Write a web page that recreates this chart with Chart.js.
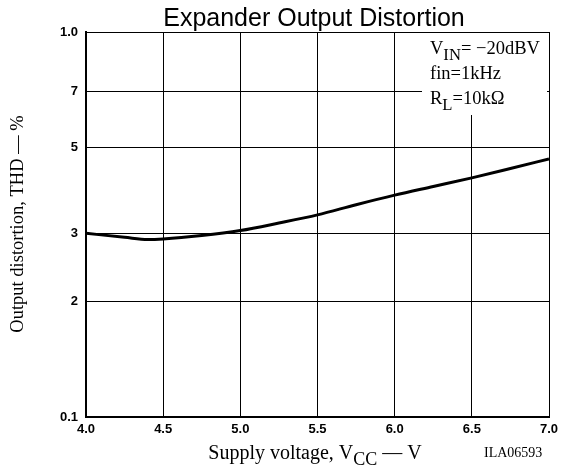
<!DOCTYPE html>
<html>
<head>
<meta charset="utf-8">
<script src="https://cdn.jsdelivr.net/npm/chart.js@4.4.1/dist/chart.umd.min.js"></script>
<style>
  html, body { margin: 0; padding: 0; background: #fff; }
  #wrap { width: 568px; height: 469px; position: relative; }
</style>
</head>
<body>
<div id="wrap"><canvas id="chart"></canvas></div>
<script>
// supply voltage (V) vs. THD
const supplyVoltage = [4.0, 4.25, 4.4, 4.5, 4.75, 5.0, 5.25, 5.5, 5.75, 6.0, 6.25, 6.5, 6.75, 7.0];
const thd = [3.0, 2.93, 2.89, 2.90, 2.96, 3.05, 3.19, 3.35, 3.56, 3.77, 3.97, 4.18, 4.42, 4.68];
const yTicks = [1, 2, 3, 5, 7, 10];
const yTickLabels = ['0.1', '2', '3', '5', '7', '1.0'];
const xTicks = [4.0, 4.5, 5.0, 5.5, 6.0, 6.5, 7.0];

const serif = '"Liberation Serif", "DejaVu Serif", serif';
const sans = '"Liberation Sans", Arial, sans-serif';

// draw text runs with optional subscripts, returns end x
function runs(ctx, x, y, parts, size) {
  for (const p of parts) {
    const s = p.sub ? size * 0.9 : size;
    ctx.font = s + 'px ' + serif;
    ctx.fillText(p.t, x, y + (p.sub ? size * 0.3 : 0));
    x += ctx.measureText(p.t).width;
  }
  return x;
}
function runsWidth(ctx, parts, size) {
  let w = 0;
  for (const p of parts) {
    ctx.font = (p.sub ? size * 0.9 : size) + 'px ' + serif;
    w += ctx.measureText(p.t).width;
  }
  return w;
}

const labels = {
  id: 'labels',
  afterDraw(chart) {
    const { ctx, chartArea: a } = chart;
    ctx.save();
    ctx.fillStyle = '#000';
    ctx.textBaseline = 'alphabetic';

    // title
    ctx.font = '25px ' + sans;
    ctx.textAlign = 'center';
    ctx.fillText('Expander Output Distortion', 314, 26);

    // conditions box
    ctx.textAlign = 'left';
    ctx.fillStyle = '#fff';
    ctx.fillRect(422, a.top + 1, a.right - 424, 82);
    ctx.fillStyle = '#000';
    runs(ctx, 430, 54, [{ t: 'V' }, { t: 'IN', sub: true }, { t: '= \u221220dBV' }], 18.5);
    runs(ctx, 430, 79, [{ t: 'fin=1kHz' }], 18.5);
    runs(ctx, 430, 104, [{ t: 'R' }, { t: 'L', sub: true }, { t: '=10k\u03A9' }], 18.5);

    // x axis title
    const xt = [{ t: 'Supply voltage, V' }, { t: 'CC', sub: true }, { t: ' \u2014 V' }];
    const w = runsWidth(ctx, xt, 20);
    runs(ctx, 315 - w / 2, 459, xt, 20);

    ctx.font = '14px ' + serif;
    ctx.fillText('ILA06593', 484, 457);

    // y axis title
    ctx.translate(23, 224);
    ctx.rotate(-Math.PI / 2);
    ctx.textAlign = 'center';
    ctx.font = '18.5px ' + serif;
    ctx.fillText('Output distortion, THD \u2014 %', 0, 0);
    ctx.restore();
  }
};

new Chart(document.getElementById('chart'), {
  type: 'line',
  data: {
    datasets: [{
      data: supplyVoltage.map((v, i) => ({ x: v, y: thd[i] })),
      borderColor: '#000',
      borderWidth: 3,
      pointRadius: 0,
      cubicInterpolationMode: 'monotone',
      fill: false
    }]
  },
  options: {
    responsive: true,
    maintainAspectRatio: false,
    animation: false,
    layout: { padding: { left: 0, top: 32, right: 19, bottom: 0 } },
    plugins: { legend: { display: false }, tooltip: { enabled: false } },
    scales: {
      x: {
        type: 'linear',
        min: 4, max: 7,
        afterBuildTicks: s => { s.ticks = xTicks.map(v => ({ value: v })); },
        afterFit: s => { s.height = 52; },
        grid: { color: '#000', lineWidth: 1, drawTicks: false },
        border: { color: '#000', width: 2 },
        ticks: {
          color: '#000', padding: 5,
          font: { family: sans, size: 13, weight: 'bold' },
          callback: v => Number(v).toFixed(1)
        }
      },
      y: {
        type: 'logarithmic',
        min: 1, max: 10,
        afterBuildTicks: s => { s.ticks = yTicks.map(v => ({ value: v })); },
        afterFit: s => { s.width = 86; },
        grid: { color: '#000', lineWidth: 1, drawTicks: false },
        border: { color: '#000', width: 2 },
        ticks: {
          color: '#000', padding: 8,
          font: { family: sans, size: 13, weight: 'bold' },
          callback: v => yTickLabels[yTicks.indexOf(v)] ?? ''
        }
      }
    }
  },
  plugins: [labels]
});
</script>
</body>
</html>
